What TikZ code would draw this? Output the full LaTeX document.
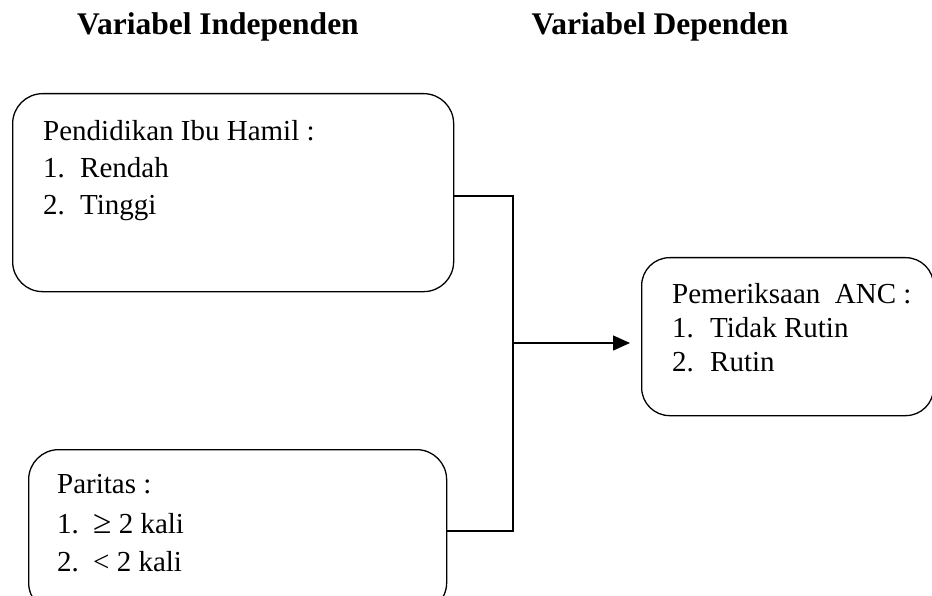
\documentclass[tikz,border=0pt]{standalone}
\usepackage{fontspec}
\setmainfont{Liberation Serif}
\usetikzlibrary{arrows.meta}

\begin{document}
\begin{tikzpicture}[x=1pt, y=-1pt,
  box/.style={draw, line width=1.3pt, rounded corners=30pt, anchor=north west, inner sep=0pt},
  head/.style={font=\fontsize{31.5}{36}\selectfont\bfseries, anchor=base, inner sep=0pt},
  line/.style={font=\fontsize{29}{34}\selectfont, anchor=base west, inner sep=0pt},
  wire/.style={line width=1.3pt}]
  \useasboundingbox (0,0) rectangle (932,596);
  \clip (0,0) rectangle (932,596);

  % column headings
  \node[head] (hIndep) at (218,35) {Variabel Independen};
  \node[head] (hDep)   at (660,35) {Variabel Dependen};

  % variable boxes
  \node[box, minimum width=441pt, minimum height=198pt] (b1) at (12,93) {};
  \node[box, minimum width=418pt, minimum height=163pt] (b2) at (28,449) {};
  \node[box, minimum width=292pt, minimum height=158pt, rounded corners=28pt] (b3) at (641,257) {};

  % box texts
  \node[line] (t11) at (43,141) {Pendidikan Ibu Hamil :};
  \node[line] (t12) at (43,178) {\makebox[37pt][l]{1.}Rendah};
  \node[line] (t13) at (43,215) {\makebox[37pt][l]{2.}Tinggi};

  \node[line] (t21) at (57,493) {Paritas :};
  \node[line] (t22) at (57,533) {\makebox[36pt][l]{1.}\scalebox{1.15}{≥} 2 kali};
  \node[line] (t23) at (57,571) {\makebox[36pt][l]{2.}< 2 kali};

  \node[line] (t31) at (672,303) {Pemeriksaan\ \ ANC :};
  \node[line] (t32) at (672,337) {\makebox[38pt][l]{1.}Tidak Rutin};
  \node[line] (t33) at (672,371) {\makebox[38pt][l]{2.}Rutin};

  % connector
  \coordinate (j1) at (513,196);
  \coordinate (j2) at (513,531);
  \coordinate (jm) at (513,343);
  \draw[wire] (b1.east |- j1) -- (j1) -- (j2) -- (b2.east |- j2);
  \draw[wire, -{Triangle[length=17pt, width=15pt]}, shorten >=11pt] (jm) -- (b3.west |- jm);
\end{tikzpicture}
\end{document}
